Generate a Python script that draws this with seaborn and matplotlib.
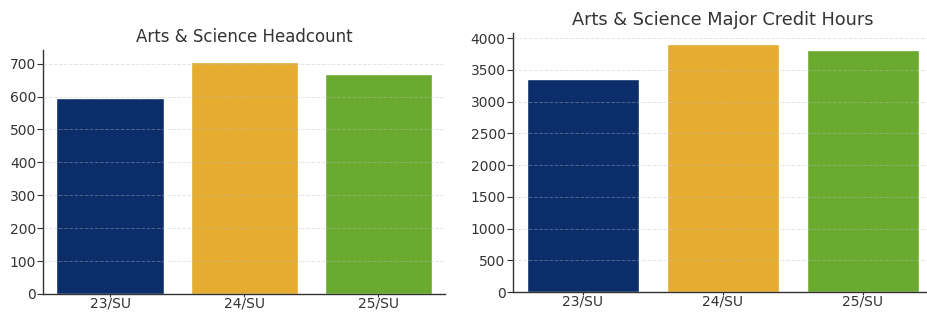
import pandas as pd
import matplotlib.pyplot as plt
import seaborn as sns

# DATOS

terms = ["23/SU", "24/SU", "25/SU"]
headcount = [596, 706, 669]
credit_hours = [3355, 3905, 3812]

bar_colors = ["#0b2d6a", "#e5ac2f", "#6aaa2e"]
text_color = "#333333"

sns.set_style("white")
plt.rcParams["font.family"] = ["DejaVu Sans"]

df = pd.DataFrame({"term": terms, "headcount": headcount, "credit_hours": credit_hours})

fig = plt.figure(figsize=(9.27, 3.12), dpi=100)

ax1 = fig.add_axes([0.0464, 0.058, 0.434, 0.782])
ax2 = fig.add_axes([0.553, 0.064, 0.453, 0.830])


def style_axis(ax, title, top, title_size):
    ax.set_title(title, fontsize=title_size, color=text_color, pad=6)
    ax.set_xlabel("")
    ax.set_ylabel("")
    ax.set_ylim(0, top)
    ax.set_xlim(-0.5, 2.5)
    sns.despine(ax=ax)
    for side in ["left", "bottom"]:
        ax.spines[side].set_color(text_color)
        ax.spines[side].set_linewidth(1.0)
    ax.tick_params(axis="y", labelsize=10, colors=text_color, length=4,
                   width=0.8, left=True, pad=1)
    ax.tick_params(axis="x", labelsize=10, colors=text_color, length=2,
                   width=0.8, bottom=True, pad=0)
    ax.set_axisbelow(False)
    ax.yaxis.grid(True, color="#b8bcc8", alpha=0.4, linestyle="--", linewidth=0.7)


# 1 HEADCOUNT

sns.barplot(data=df, x="term", y="headcount", hue="term", palette=bar_colors,
            legend=False, width=0.8, saturation=1, ax=ax1)
style_axis(ax1, "Arts & Science Headcount", 742, 12)
ax1.set_yticks(range(0, 800, 100))

# 2 CREDIT HOURS

sns.barplot(data=df, x="term", y="credit_hours", hue="term", palette=bar_colors,
            legend=False, width=0.8, saturation=1, ax=ax2)
style_axis(ax2, "Arts & Science Major Credit Hours", 4080, 12.8)
ax2.set_yticks(range(0, 4500, 500))

fig.savefig("out.png", dpi=100)
